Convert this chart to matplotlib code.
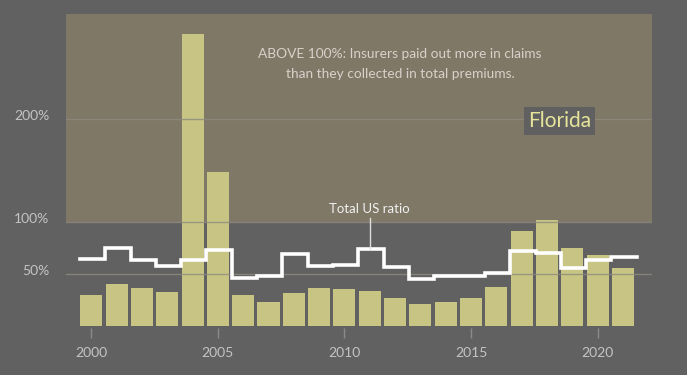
import numpy as np
import matplotlib.pyplot as plt
import matplotlib.transforms as mtrans

# Florida loss ratio (bars) vs total US ratio (step line), in %
years = list(range(2000, 2022))
florida = [29.8, 40.4, 36.5, 32.7, 281.7, 149.0, 29.8, 23.0, 31.7, 36.5, 35.6,
           33.7, 26.9, 21.2, 23.1, 26.9, 37.5, 91.3, 101.9, 75.0, 68.3, 55.8]
us_total = [64.4, 75.3, 63.5, 57.7, 64.1, 73.4, 46.5, 48.7, 69.6, 58.0, 59.3,
            74.4, 57.0, 44.9, 48.7, 48.0, 51.3, 72.4, 70.5, 56.4, 64.1, 66.7]
yticks = [50, 100, 200]
ytick_labels = ["50%", "100%", "200%"]
xticks = [2000, 2005, 2010, 2015, 2020]

bg = "#616161"
tan = "#7f7866"
bar_col = "#c8c584"
grid_col = "#8e8b80"
txt_col = "#c4c4c4"

plt.rcParams['font.family'] = ['Lato', 'DejaVu Sans']

fig = plt.figure(figsize=(6.87, 3.75), dpi=100, facecolor=bg)
ax = fig.add_axes([66/687, 1 - 328/375, 586/687, (328 - 14)/375])
ax.set_facecolor(bg)

ymin = -2/1.04
ax.set_ylim(ymin, 301)
ax.set_xlim(1999.0, 2022.15)

# shaded zone above 100%
ax.axhspan(100, 301, color=tan, zorder=0, lw=0)

ax.bar(years, florida, width=0.87, color=bar_col, zorder=2)

for y in yticks:
    ax.axhline(y, color=grid_col, lw=1, alpha=0.8, zorder=3)

# step line for the total US ratio
edges = np.array(years + [years[-1] + 1]) - 0.45
vals = us_total + [us_total[-1]]
ax.step(edges, vals, where='post', color='white', lw=2.6, zorder=4,
        solid_joinstyle='miter')

# leader for the line label
ax.plot([2011, 2011], [us_total[11], 104], color='#dddddd', lw=1, zorder=4)
ax.text(2011, 107, "Total US ratio", ha='center', va='bottom',
        color='#f0f0f0', fontsize=9.5, zorder=5)

ax.text(2012.2, 253, "ABOVE 100%: Insurers paid out more in claims\nthan they collected in total premiums.",
        ha='center', va='center', color='#dccfca', fontsize=9.9,
        linespacing=1.85, zorder=5)

ax.text(2018.5, 198, "Florida", ha='center', va='center', color='#e6e49a',
        fontsize=15, zorder=5,
        bbox=dict(boxstyle='square,pad=0.18', fc='#606060', ec='none'))

for s in ax.spines.values():
    s.set_visible(False)

ax.set_xticks(xticks)
ax.set_xticklabels([str(x) for x in xticks])
ax.tick_params(axis='x', direction='out', length=7.5, width=1, color='#8a8a8a',
               labelcolor=txt_col, labelsize=10, pad=6)
ax.set_yticks(yticks)
ax.set_yticklabels(ytick_labels)
ax.tick_params(axis='y', length=0, labelcolor=txt_col, labelsize=10, pad=12)
shift = mtrans.ScaledTranslation(0, 3/100, fig.dpi_scale_trans)
for lab in ax.get_yticklabels():
    lab.set_verticalalignment('center')
    lab.set_transform(lab.get_transform() + shift)

fig.savefig("out.png", dpi=100, facecolor=bg)
